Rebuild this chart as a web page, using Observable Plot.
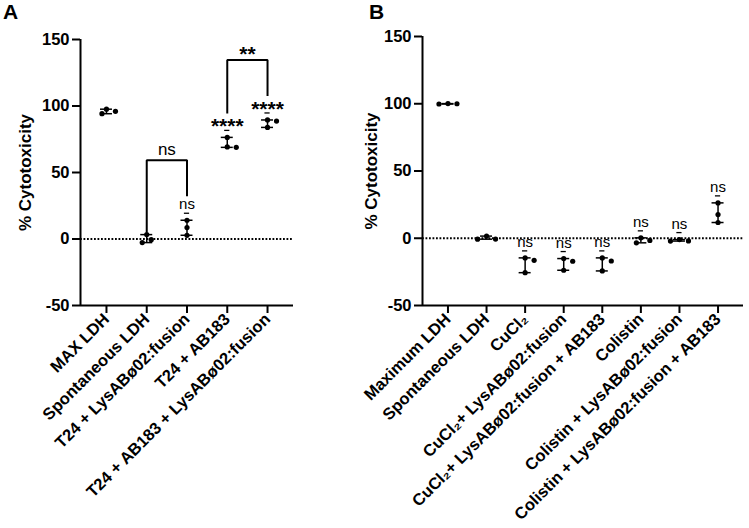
<!DOCTYPE html>
<html><head><meta charset="utf-8">
<script src="https://cdn.jsdelivr.net/npm/d3@7"></script>
<script src="https://cdn.jsdelivr.net/npm/@observablehq/plot@0.6"></script>
<style>
body{margin:0;background:#fff;}
#wrap{position:relative;width:749px;height:528px;overflow:hidden;font-family:"Liberation Sans",Arial,sans-serif;background:#fff;}
.panel{position:absolute;top:0;}
.letter{position:absolute;font-weight:bold;font-size:21px;line-height:21px;color:#000;}
</style></head><body>
<div id="wrap">
<div id="pa" class="panel" style="left:0;width:355px"></div>
<div id="pb" class="panel" style="left:355px;width:394px"></div>
<div class="letter" style="left:3px;top:1px">A</div>
<div class="letter" style="left:369px;top:1px">B</div>
</div>
<script>
// ---------- data: panel A ----------
const aLabels = ["MAX LDH", "Spontaneous LDH", "T24 + LysABø02:fusion", "T24 + AB183", "T24 + AB183 + LysABø02:fusion"];
const aRep1 = [97.6, 3.3, 14.1, 76.4, 89.5];
const aRep2 = [94.2, -2.7, 8.6, 68.9, 88.7];
const aRep3 = [96.0, -0.5, 2.8, 69.2, 83.9];
const aSig = ["", "", "ns", "****", "****"];
const aBrackets = [[1, 2, "ns"], [3, 4, "**"]];

// ---------- data: panel B ----------
const bLabels = ["Maximum LDH", "Spontaneous LDH", "CuCl₂", "CuCl₂+ LysABø02:fusion", "CuCl₂+ LysABø02:fusion + AB183", "Colistin", "Colistin + LysABø02:fusion", "Colistin + LysABø02:fusion + AB183"];
const bRep1 = [99.8, -0.7, -14.6, -15.1, -14.6, 0.3, -2.1, 26.3];
const bRep2 = [100.0, 1.6, -16.4, -17.1, -16.9, -3.4, -1.0, 17.6];
const bRep3 = [100.1, -0.6, -25.6, -23.8, -24.3, -1.6, -2.0, 11.7];
const bSig = ["", "", "ns", "ns", "ns", "ns", "ns", "ns"];
const bBrackets = [];

const yTicks = [-50, 0, 50, 100, 150];
const yTitle = "% Cytotoxicity";

function panel({labels, reps, sig, brackets, width, marginLeft, marginRight, marginTop, marginBottom, pad, titleDx}) {
  const H = 528, n = labels.length;
  const yMin = -50, yMax = 150;
  const innerW = width - marginLeft - marginRight;
  const innerH = H - marginTop - marginBottom;
  const ppu = innerH / (yMax - yMin);
  const step = innerW / (n - 1 + 2 * pad);
  const dots = [], groups = [];
  const cands = [0, 1, -1, 2, -2, 3, -3].map(c => c * 4.5);
  labels.forEach((lab, i) => {
    const vals = reps.map(r => r[i]);
    const order = vals.map((v, k) => k).sort((a, b) => vals[b] - vals[a]);
    const placed = [];
    for (const k of order) {
      const py = vals[k] * ppu;
      const off = cands.find(c => placed.every(p => Math.hypot(p.off - c, p.py - py) >= 6)) ?? 0;
      placed.push({off, py});
      dots.push({x: i + off / step, y: vals[k]});
    }
    groups.push({i, min: d3.min(vals), max: d3.max(vals), sig: sig[i]});
  });
  const sigG = groups.filter(g => g.sig);
  const nsG = sigG.filter(g => g.sig === "ns");
  const starG = sigG.filter(g => g.sig !== "ns");
  const legEnd = g => g.max + (g.sig ? 25 : 3) / ppu;
  const brPts = [], brTxt = [];
  brackets.forEach(([a, b, t], k) => {
    const la = legEnd(groups[a]), lb = legEnd(groups[b]);
    const top = Math.max(la, lb) + 35 / ppu;
    brPts.push({k, x: a, y: la}, {k, x: a, y: top}, {k, x: b, y: top}, {k, x: b, y: lb});
    brTxt.push({x: (a + b) / 2, y: top, t});
  });
  const capW = 6 / step, dashW = 2.6 / step;
  const fs = 16.5;
  return Plot.plot({
    width, height: H, marginLeft, marginRight, marginTop, marginBottom,
    style: {fontFamily: '"Liberation Sans", Arial, sans-serif', fontSize: fs + "px", fontWeight: "bold", color: "#000", background: "#fff"},
    x: {type: "linear", domain: [-pad, n - 1 + pad]},
    y: {domain: [yMin, yMax]},
    marks: [
      Plot.ruleY([0], {strokeDasharray: "1.8,1.7", strokeWidth: 1.8}),
      Plot.ruleX(groups, {x: "i", y1: "min", y2: "max", strokeWidth: 1.5}),
      Plot.ruleY(groups, {y: "min", x1: d => d.i - capW, x2: d => d.i + capW, strokeWidth: 1.5}),
      Plot.ruleY(groups, {y: "max", x1: d => d.i - capW, x2: d => d.i + capW, strokeWidth: 1.5}),
      Plot.dot(dots, {x: "x", y: "y", r: 2.6, fill: "#000", stroke: "none"}),
      Plot.ruleY(sigG, {y: "max", x1: d => d.i - dashW, x2: d => d.i + dashW, dy: -7, strokeWidth: 1.3}),
      Plot.text(nsG, {x: "i", y: "max", text: "sig", dy: -11, lineAnchor: "bottom", fontSize: 15, fontWeight: "normal"}),
      Plot.text(starG, {x: "i", y: "max", text: "sig", dy: -4, lineAnchor: "bottom", fontSize: 21, fontWeight: "bold"}),
      Plot.line(brPts, {x: "x", y: "y", z: "k", strokeWidth: 2, strokeLinejoin: "miter", strokeLinecap: "square"}),
      Plot.text(brTxt.filter(d => d.t === "ns"), {x: "x", y: "y", text: "t", dy: -5, lineAnchor: "bottom", fontSize: 17, fontWeight: "normal"}),
      Plot.text(brTxt.filter(d => d.t !== "ns"), {x: "x", y: "y", text: "t", dy: 1, lineAnchor: "bottom", fontSize: 21, fontWeight: "bold"}),
      Plot.ruleX([-pad], {y1: yMin, y2: yMax, strokeWidth: 2}),
      Plot.ruleY([yMin], {strokeWidth: 2}),
      Plot.axisY({ticks: yTicks, tickFormat: d => String(d), tickSize: 8, tickPadding: 3, strokeWidth: 2, fontSize: fs, fontWeight: "bold", label: null}),
      Plot.axisX({ticks: d3.range(n), tickFormat: i => labels[i], tickRotate: -45, tickSize: 8, tickPadding: 3, strokeWidth: 2, fontSize: fs, fontWeight: "bold", label: null}),
      Plot.text([yTitle], {text: d => d, x: () => -pad, y: () => (yMin + yMax) / 2, dx: titleDx, textAnchor: "middle", lineAnchor: "middle", rotate: -90, fontSize: 17, fontWeight: "bold"})
    ]
  });
}

document.getElementById("pa").appendChild(panel({
  labels: aLabels, reps: [aRep1, aRep2, aRep3], sig: aSig, brackets: aBrackets,
  width: 355, marginLeft: 80, marginRight: 62, marginTop: 39, marginBottom: 223, pad: 0.645, titleDx: -55
}));
document.getElementById("pb").appendChild(panel({
  labels: bLabels, reps: [bRep1, bRep2, bRep3], sig: bSig, brackets: bBrackets,
  width: 394, marginLeft: 67, marginRight: 6, marginTop: 36, marginBottom: 223, pad: 0.66, titleDx: -51
}));
</script>
</body></html>
